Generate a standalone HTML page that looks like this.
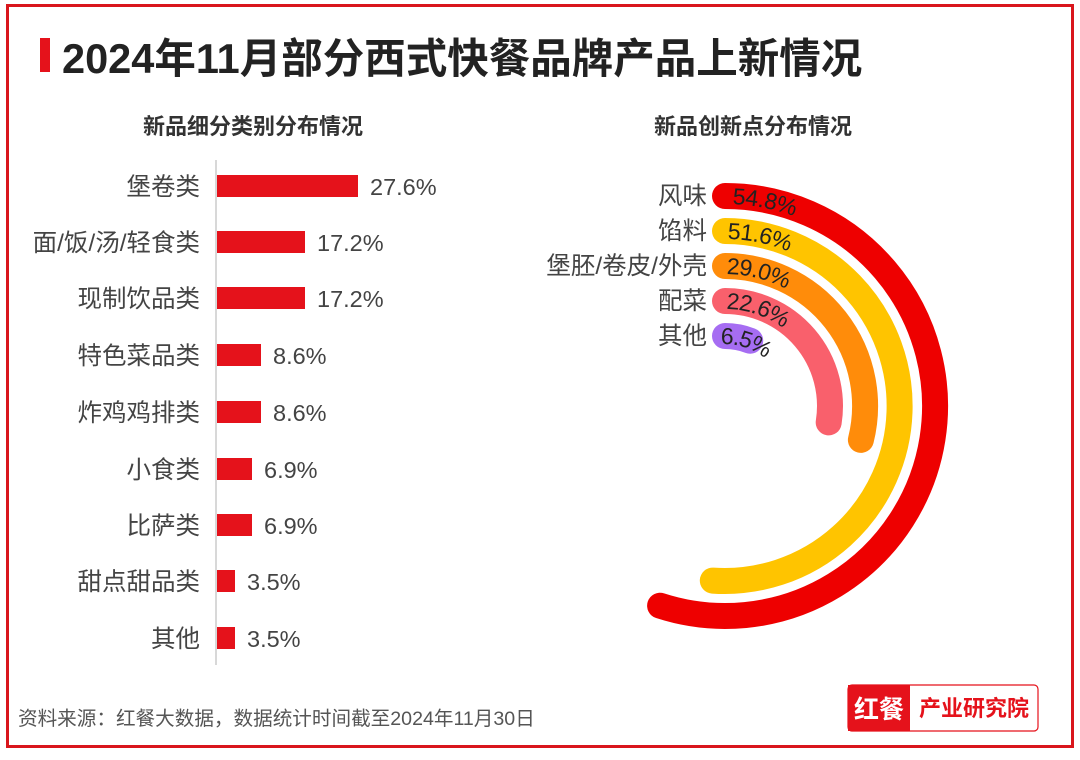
<!DOCTYPE html>
<html><head><meta charset="utf-8"><style>
body{margin:0;width:1080px;height:755px;background:#fff;overflow:hidden;font-family:"Liberation Sans","Noto Sans CJK SC",sans-serif;}
</style></head><body>
<svg width="1080" height="755" xmlns="http://www.w3.org/2000/svg" style="font-family:'Liberation Sans','Noto Sans CJK SC',sans-serif">
<defs>
<path id="g1" d="M725 196 A210 210 0 0 1 935 406"/>
<path id="g2" d="M725 231 A175 175 0 0 1 900 406"/>
<path id="g3" d="M725 266 A140 140 0 0 1 865 406"/>
<path id="g4" d="M725 301 A105 105 0 0 1 830 406"/>
<path id="g5" d="M725 336 A70 70 0 0 1 795 406"/>
</defs>
<rect x="7.5" y="5.5" width="1065" height="741" fill="none" stroke="#d9161c" stroke-width="3"/>
<rect x="40" y="38" width="10" height="34" fill="#e5121b"/>
<text x="62" y="73" font-size="41.5" font-weight="bold" fill="#222">2024年11月部分西式快餐品牌产品上新情况</text>
<text x="253" y="134" font-size="22" font-weight="bold" fill="#333" text-anchor="middle">新品细分类别分布情况</text>
<text x="753" y="134" font-size="22" font-weight="bold" fill="#333" text-anchor="middle">新品创新点分布情况</text>
<line x1="216" y1="160" x2="216" y2="665" stroke="#ccc" stroke-width="1.5"/>
<g font-size="23.5" fill="#444">
<g text-anchor="end" font-size="24.5">
<text x="200" y="195">堡卷类</text>
<text x="200" y="251">面/饭/汤/轻食类</text>
<text x="200" y="307">现制饮品类</text>
<text x="200" y="364">特色菜品类</text>
<text x="200" y="421">炸鸡鸡排类</text>
<text x="200" y="478">小食类</text>
<text x="200" y="534">比萨类</text>
<text x="200" y="590">甜点甜品类</text>
<text x="200" y="647">其他</text>
</g>
<g fill="#e5121b">
<rect x="217" y="175" width="141" height="22"/>
<rect x="217" y="231" width="88" height="22"/>
<rect x="217" y="287" width="88" height="22"/>
<rect x="217" y="344" width="44" height="22"/>
<rect x="217" y="401" width="44" height="22"/>
<rect x="217" y="458" width="35" height="22"/>
<rect x="217" y="514" width="35" height="22"/>
<rect x="217" y="570" width="18" height="22"/>
<rect x="217" y="627" width="18" height="22"/>
</g>
<text x="370" y="195">27.6%</text>
<text x="317" y="251">17.2%</text>
<text x="317" y="307">17.2%</text>
<text x="273" y="364">8.6%</text>
<text x="273" y="421">8.6%</text>
<text x="264" y="478">6.9%</text>
<text x="264" y="534">6.9%</text>
<text x="247" y="590">3.5%</text>
<text x="247" y="647">3.5%</text>
</g>
<g fill="none" stroke-width="26" stroke-linecap="round">
<path d="M725 196 A210 210 0 1 1 660.1 605.7" stroke="#ee0000"/>
<path d="M725 231 A175 175 0 1 1 712.8 580.6" stroke="#ffc400"/>
<path d="M725 266 A140 140 0 0 1 860.9 439.9" stroke="#ff8c0a"/>
<path d="M725 301 A105 105 0 0 1 828.7 422.4" stroke="#f9606c"/>
<path d="M725 336 A70 70 0 0 1 750.2 340.7" stroke="#a66df2"/>
</g>
<g font-size="23" fill="#222">
<text dy="8"><textPath href="#g1" startOffset="8">54.8%</textPath></text>
<text dy="8"><textPath href="#g2" startOffset="3">51.6%</textPath></text>
<text dy="8"><textPath href="#g3" startOffset="2">29.0%</textPath></text>
<text dy="8"><textPath href="#g4" startOffset="2">22.6%</textPath></text>
<text dy="8"><textPath href="#g5" startOffset="-4">6.5%</textPath></text>
</g>
<g font-size="24.5" fill="#444" text-anchor="end">
<text x="707" y="204">风味</text>
<text x="707" y="239">馅料</text>
<text x="707" y="274">堡胚/卷皮/外壳</text>
<text x="707" y="309">配菜</text>
<text x="707" y="344">其他</text>
</g>
<text x="18" y="725" font-size="19.6" fill="#555">资料来源：红餐大数据，数据统计时间截至2024年11月30日</text>
<rect x="848" y="685" width="190" height="46" rx="4" fill="#fff" stroke="#e5121b" stroke-width="1.2"/>
<rect x="848" y="685" width="62" height="46" fill="#e5121b"/>
<text x="879" y="718" font-size="25" font-weight="bold" fill="#fff" text-anchor="middle">红餐</text>
<text x="974" y="716" font-size="22" font-weight="bold" fill="#e5121b" text-anchor="middle">产业研究院</text>
</svg>
</body></html>
